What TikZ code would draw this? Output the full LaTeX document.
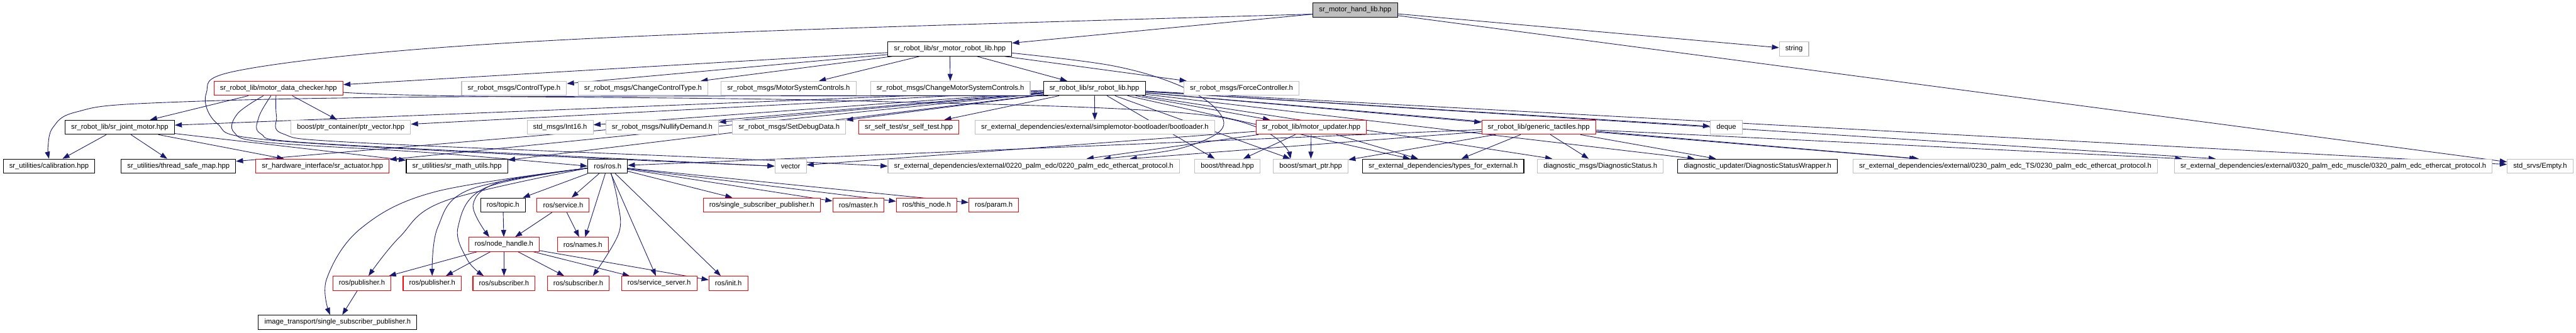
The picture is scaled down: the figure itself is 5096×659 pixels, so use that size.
\documentclass[tikz,border=0pt]{standalone}
\usepackage{fontspec}
\setmainfont{Liberation Sans}
\usetikzlibrary{arrows.meta,backgrounds}
\definecolor{edgec}{HTML}{191970}
\definecolor{lgray}{HTML}{BFBFBF}
\definecolor{redb}{HTML}{FF0000}
\begin{document}
\begin{tikzpicture}[x=1pt,y=-1pt,
  box/.style={draw, fill=white, line width=1.3pt, inner xsep=12pt, inner ysep=0pt, minimum height=28pt, font=\fontsize{14}{16}\selectfont},
  blkbox/.style={box, draw=black},
  redbox/.style={box, draw=redb},
  grybox/.style={box, draw=lgray},
  mainbox/.style={box, draw=black, fill=lgray},
  edge/.style={draw=edgec, line width=1.1pt, -{Triangle[length=14pt,width=10pt]}}
]
\useasboundingbox (0,0) rectangle (5096,659);
% rank 0
\node[mainbox] (main) at (2681,20) {sr\_motor\_hand\_lib.hpp};
% rank 1
\node[blkbox] (smrl) at (1879,97) {sr\_robot\_lib/sr\_motor\_robot\_lib.hpp};
\node[grybox] (string) at (3549,97) {string};
% rank 2
\node[redbox] (mdc) at (551,175) {sr\_robot\_lib/motor\_data\_checker.hpp};
\node[grybox] (ct) at (1017,175) {sr\_robot\_msgs/ControlType.h};
\node[grybox] (cct) at (1272,175) {sr\_robot\_msgs/ChangeControlType.h};
\node[grybox] (msc) at (1560,175) {sr\_robot\_msgs/MotorSystemControls.h};
\node[grybox] (cmsc) at (1880,175) {sr\_robot\_msgs/ChangeMotorSystemControls.h};
\node[blkbox] (srl) at (2165,175) {sr\_robot\_lib/sr\_robot\_lib.hpp};
\node[grybox] (fc) at (2456,175) {sr\_robot\_msgs/ForceController.h};
% rank 3
\node[blkbox] (sjm) at (237,252) {sr\_robot\_lib/sr\_joint\_motor.hpp};
\node[grybox] (ptrv) at (694,252) {boost/ptr\_container/ptr\_vector.hpp};
\node[grybox] (int16) at (1108,252) {std\_msgs/Int16.h};
\node[grybox] (nd) at (1310,252) {sr\_robot\_msgs/NullifyDemand.h};
\node[grybox] (sdd) at (1561,252) {sr\_robot\_msgs/SetDebugData.h};
\node[redbox] (sst) at (1798,252) {sr\_self\_test/sr\_self\_test.hpp};
\node[grybox] (boot) at (2166,252) {sr\_external\_dependencies/external/simplemotor-bootloader/bootloader.h};
\node[redbox] (mu) at (2594,252) {sr\_robot\_lib/motor\_updater.hpp};
\node[redbox] (gt) at (3044,252) {sr\_robot\_lib/generic\_tactiles.hpp};
\node[grybox] (deque) at (3415,252) {deque};
% rank 4
\node[blkbox] (cal) at (97,329) {sr\_utilities/calibration.hpp};
\node[blkbox] (tsm) at (353,329) {sr\_utilities/thread\_safe\_map.hpp};
\node[redbox] (act) at (638,329) {sr\_hardware\_interface/sr\_actuator.hpp};
\node[blkbox] (smu) at (904,329) {sr\_utilities/sr\_math\_utils.hpp};
\node[blkbox] (ros) at (1202,329) {ros/ros.h};
\node[grybox] (vector) at (1564,329) {vector};
\node[grybox] (e220) at (2045,329) {sr\_external\_dependencies/external/0220\_palm\_edc/0220\_palm\_edc\_ethercat\_protocol.h};
\node[grybox] (thread) at (2428,329) {boost/thread.hpp};
\node[grybox] (smart) at (2593,329) {boost/smart\_ptr.hpp};
\node[blkbox] (tfe) at (2855,329) {sr\_external\_dependencies/types\_for\_external.h};
\node[grybox] (ds) at (3166,329) {diagnostic\_msgs/DiagnosticStatus.h};
\node[blkbox] (dsw) at (3477,329) {diagnostic\_updater/DiagnosticStatusWrapper.h};
\node[grybox] (e230) at (3967,329) {sr\_external\_dependencies/external/0230\_palm\_edc\_TS/0230\_palm\_edc\_ethercat\_protocol.h};
\node[grybox] (e320) at (4616,329) {sr\_external\_dependencies/external/0320\_palm\_edc\_muscle/0320\_palm\_edc\_ethercat\_protocol.h};
\node[grybox] (empty) at (5025,329) {std\_srvs/Empty.h};
% rank 5
\node[blkbox] (topic) at (995,406) {ros/topic.h};
\node[redbox] (service) at (1114,406) {ros/service.h};
\node[redbox] (ssp) at (1507,406) {ros/single\_subscriber\_publisher.h};
\node[redbox] (master) at (1698,406) {ros/master.h};
\node[redbox] (thisnode) at (1833,406) {ros/this\_node.h};
\node[redbox] (param) at (1966,406) {ros/param.h};
% rank 6
\node[redbox] (nh) at (997,484) {ros/node\_handle.h};
\node[redbox] (names) at (1153,484) {ros/names.h};
% rank 7
\node[redbox] (pub1) at (716,561) {ros/publisher.h};
\node[redbox] (pub2) at (855,561) {ros/publisher.h};
\node[redbox] (sub1) at (997,561) {ros/subscriber.h};
\node[redbox] (sub2) at (1144,561) {ros/subscriber.h};
\node[redbox] (ss) at (1304,561) {ros/service\_server.h};
\node[redbox] (init) at (1441,561) {ros/init.h};
% rank 8
\node[blkbox] (itssp) at (668,638) {image\_transport/single\_subscriber\_publisher.h};

\begin{pgfonlayer}{background}
\fill[white] (0,0) rectangle (5096,659);
% main
\draw[edge] (main) -- (smrl);
\draw[edge] (main) -- (string);
\draw[edge] (main) -- (empty);
\draw[edge] plot[smooth,tension=0.6] coordinates {([yshift=-8pt]main.west) (1500,62) (860,95) (470,140) (408,185) (430,245) (520,276) (1000,305) (vector.west)};
% smrl
\draw[edge] (smrl) -- (mdc);
\draw[edge] (smrl) -- (ct);
\draw[edge] (smrl) -- (cct);
\draw[edge] (smrl) -- (msc);
\draw[edge] (smrl) -- (cmsc);
\draw[edge] (smrl) -- (srl);
\draw[edge] (smrl) -- (fc);
\draw[edge] plot[smooth,tension=0.6] coordinates {([yshift=-8pt]smrl.east) (2200,130) (2330,168) (2405,215) (2415,258) (2330,295) ([xshift=138]e220.north)};
% mdc
\draw[edge] (mdc) -- (sjm);
\draw[edge] (mdc) -- (ptrv);
\draw[edge] plot[smooth,tension=0.6] coordinates {([xshift=-30]mdc.south) (470,225) (463,262) (530,282) (860,303) (ros.west)};
\draw[edge] plot[smooth,tension=0.6] coordinates {([xshift=-15]mdc.south) (512,232) (516,265) (600,282) (1100,308) (vector.west)};
\draw[edge] plot[smooth,tension=0.6] coordinates {([xshift=-5]mdc.south) (547,230) (560,265) (700,282) (1400,312) (e220.west)};
\draw[edge] plot[smooth,tension=0.6] coordinates {([yshift=-8pt]mdc.east) (900,190) (1700,200) (2400,230) ([xshift=-40]smart.north)};
% sjm
\draw[edge] (sjm) -- (cal);
\draw[edge] (sjm) -- (tsm);
\draw[edge] (sjm) -- (act);
\draw[edge] (sjm) -- (smu);
% srl
\draw[edge] (srl) -- (sjm);
\draw[edge] (srl) -- (ptrv);
\draw[edge] plot[smooth,tension=0.6] coordinates {([xshift=10]srl.south west) (860,192) (300,204) (150,222) (105,252) (95,290) (cal.north)};
\draw[edge] (srl) -- (tsm);
\draw[edge] (srl) -- (act);
\draw[edge] (srl) -- (smu);
\draw[edge] (srl) -- (int16);
\draw[edge] (srl) -- (nd);
\draw[edge] (srl) -- (sdd);
\draw[edge] (srl) -- (sst);
\draw[edge] (srl) -- (boot);
\draw[edge] (srl) -- (mu);
\draw[edge] (srl) -- (gt);
\draw[edge] (srl) -- (deque);
\draw[edge] (srl) -- (thread);
\draw[edge] (srl) -- (smart);
\draw[edge] (srl) -- (tfe);
\draw[edge] (srl) -- (ds);
\draw[edge] (srl) -- (dsw);
\draw[edge] (srl) -- (e230);
\draw[edge] (srl) -- (e320);
\draw[edge] (srl) -- (empty);
% mu
\draw[edge] (mu) -- (smart);
\draw[edge] (mu) -- (tfe);
\draw[edge] (mu) -- (thread);
\draw[edge] (mu) -- (e220);
\draw[edge] (mu) -- (vector);
% gt
\draw[edge] (gt) -- (ros);
\draw[edge] (gt) -- (e220);
\draw[edge] (gt) -- (smart);
\draw[edge] (gt) -- (tfe);
\draw[edge] (gt) -- (ds);
\draw[edge] (gt) -- (dsw);
\draw[edge] (gt) -- (e230);
\draw[edge] (gt) -- (e320);
% ros
\draw[edge] (ros) -- (topic);
\draw[edge] (ros) -- (service);
\draw[edge] (ros) -- (names);
\draw[edge] (ros) -- (ss);
\draw[edge] (ros) -- (init);
\draw[edge] (ros) -- (ssp);
\draw[edge] (ros) -- (master);
\draw[edge] (ros) -- (thisnode);
\draw[edge] (ros) -- (param);
\draw[edge] plot[smooth,tension=0.6] coordinates {([yshift=-4pt]ros.west) (860,380) (713,453) (646,553) ([xshift=-15]itssp.north)};
\draw[edge] plot[smooth,tension=0.6] coordinates {([yshift=-4pt]ros.west) (880,398) (790,470) ([xshift=13]pub1.north)};
\draw[edge] plot[smooth,tension=0.6] coordinates {([yshift=-4pt]ros.west) (930,375) (866,450) (pub2.north)};
\draw[edge] plot[smooth,tension=0.6] coordinates {([yshift=-4pt]ros.west) (960,372) (906,450) (925,515) ([xshift=-40]sub1.north)};
\draw[edge] plot[smooth,tension=0.6] coordinates {([yshift=-4pt]ros.west) (990,360) (936,405) ([xshift=-29]nh.north)};
\draw[edge] plot[smooth,tension=0.6] coordinates {([xshift=7]ros.south) (1222,400) (1224,462) ([xshift=29]sub2.north)};
\draw[edge] (topic) -- (nh);
\draw[edge] (service) -- (nh);
\draw[edge] (service) -- (names);
\draw[edge] (nh) -- (pub1);
\draw[edge] (nh) -- (pub2);
\draw[edge] (nh) -- (sub1);
\draw[edge] (nh) -- (sub2);
\draw[edge] (nh) -- (ss);
\draw[edge] (nh) -- (init);
\draw[edge] (pub1) -- (itssp);
\end{pgfonlayer}
\end{tikzpicture}
\end{document}
